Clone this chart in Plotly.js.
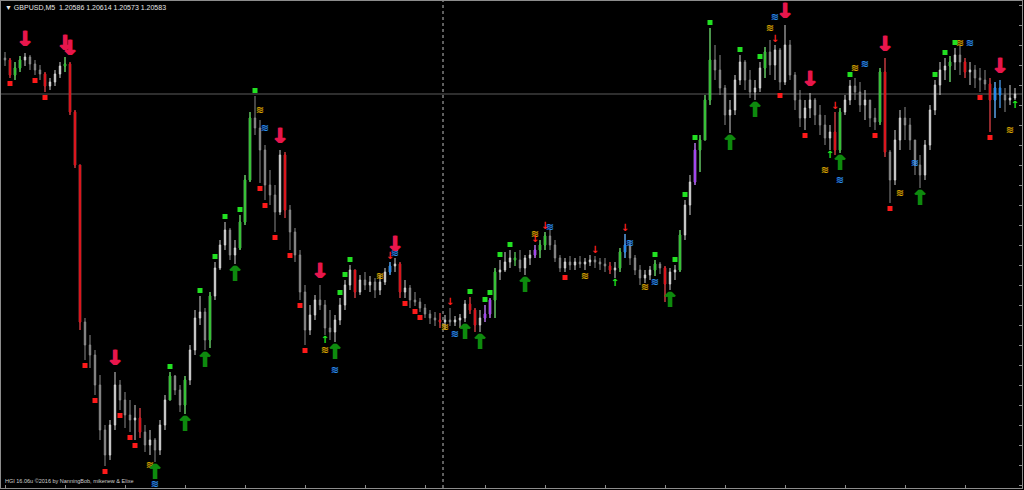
<!DOCTYPE html>
<html><head><meta charset="utf-8">
<script src="https://cdn.plot.ly/plotly-3.0.1.min.js"></script>
<style>html,body{margin:0;padding:0;background:#000;}#chart{width:1024px;height:490px;}</style>
</head><body><div id="chart"></div>
<script>
// ---- header / footer text ----
const symbolName = 'GBPUSD,M5';
const quote = ['1.20586', '1.20614', '1.20573', '1.20583'];
const footerText = 'HGI 16.06u ©2016 by NanningBob, mikenew & Elixe';

// ---- price data in points (price * 1e5) ----
const firstOpen = 120655;
const high = [
120667,120655,120647,120659,120665,120661,120651,120641,120627,120615,
120631,120647,120657,120647,120551,120441,120135,120101,120071,120021,
119921,119931,120027,120011,119987,119971,119961,119955,119921,119911,
119895,119931,119981,120027,120021,120001,120019,120081,120151,120179,
120155,120187,120247,120291,120327,120315,120291,120341,120421,120547,
120579,120531,120481,120431,120401,120471,120467,120361,120315,120271,
120201,120161,120181,120201,120171,120151,120141,120175,120211,120241,
120231,120221,120227,120219,120215,120221,120235,120247,120255,120247,
120211,120201,120187,120175,120163,120151,120147,120145,120141,120155,
120139,120143,120171,120177,120155,120151,120161,120175,120235,120251,
120267,120271,120267,120271,120261,120271,120281,120291,120307,120311,
120291,120261,120255,120259,120255,120259,120255,120261,120259,120255,
120255,120247,120247,120275,120303,120291,120261,120241,120231,120239,
120251,120247,120239,120235,120241,120311,120371,120421,120485,120501,
120581,120715,120681,120661,120601,120571,120621,120661,120651,120631,
120611,120647,120677,120691,120681,120675,120721,120691,120627,120591,
120571,120585,120575,120561,120541,120521,120547,120555,120581,120611,
120615,120607,120591,120571,120555,120635,120655,120471,120511,120551,
120557,120535,120491,120461,120491,120561,120611,120647,120655,120659,
120675,120679,120655,120647,120641,120635,120631,120615,120607,120611,
120595,120601,120595];
const low = [
120639,120615,120611,120627,120639,120631,120621,120611,120587,120591,
120599,120615,120627,120541,120435,120111,120051,120035,119981,119891,
119839,119851,119911,119951,119915,119907,119891,119895,119867,119861,
119847,119861,119911,119971,119981,119947,119943,120001,120061,120121,
120071,120075,120171,120231,120271,120251,120243,120271,120321,120407,
120501,120405,120371,120361,120307,120341,120335,120271,120247,120171,
120081,120101,120131,120151,120101,120091,120087,120121,120151,120191,
120175,120181,120191,120187,120175,120181,120201,120221,120227,120175,
120175,120155,120159,120147,120135,120123,120119,120115,120111,120119,
120119,120115,120127,120143,120107,120107,120127,120135,120135,120211,
120227,120235,120239,120227,120221,120241,120255,120255,120271,120271,
120247,120227,120227,120231,120231,120235,120231,120239,120235,120231,
120227,120223,120215,120227,120255,120241,120221,120201,120205,120211,
120219,120223,120167,120191,120211,120227,120291,120341,120401,120427,
120491,120561,120611,120581,120521,120505,120541,120601,120591,120575,
120571,120587,120615,120621,120611,120591,120601,120611,120551,120517,
120511,120535,120521,120501,120481,120471,120461,120465,120541,120561,
120571,120547,120531,120517,120511,120521,120457,120365,120401,120471,
120491,120471,120421,120395,120411,120471,120541,120581,120611,120607,
120631,120621,120615,120601,120595,120587,120591,120507,120535,120555,
120547,120561,120571];
const close = [
120651,120621,120635,120651,120657,120643,120631,120623,120599,120607,
120623,120639,120643,120547,120441,120127,120081,120061,120001,119911,
119861,119921,120001,119971,119941,119931,119935,119907,119881,119891,
119871,119921,119971,120019,119991,119961,120011,120071,120135,120147,
120091,120179,120235,120281,120311,120261,120275,120327,120411,120535,
120515,120471,120401,120381,120347,120461,120351,120307,120261,120187,
120111,120141,120171,120161,120115,120107,120131,120161,120201,120231,
120187,120211,120201,120207,120191,120207,120227,120239,120243,120187,
120195,120171,120167,120155,120143,120135,120131,120127,120131,120127,
120131,120135,120163,120151,120121,120135,120143,120171,120227,120231,
120247,120255,120251,120235,120255,120261,120271,120281,120299,120281,
120255,120235,120247,120241,120247,120243,120247,120251,120247,120243,
120239,120231,120235,120267,120281,120255,120231,120215,120221,120231,
120243,120235,120203,120227,120231,120301,120361,120407,120471,120491,
120571,120651,120631,120595,120541,120551,120611,120647,120611,120587,
120595,120635,120667,120641,120671,120607,120681,120621,120571,120535,
120555,120571,120541,120521,120495,120507,120471,120547,120571,120599,
120587,120561,120571,120535,120527,120627,120467,120411,120491,120535,
120521,120491,120441,120421,120481,120551,120601,120631,120639,120647,
120661,120647,120627,120631,120615,120611,120603,120571,120595,120581,
120571,120575,120583];

// ---- HGI bar painting (bar indices) ----
const paintGreen  = [2,3,12,33,36,41,47,48,49,98,102,107,108,123,130,135,139,140,141,152,167,175,189];
const paintRed    = [1,8,13,14,15,27,56,70,79,87,93,94,121,132,166,176,192,197];
const paintPurple = [96,97,106,138];
const paintBlue   = [77,124,198,199];

// ---- HGI signals (bar indices) ----
const bigDownArrows = [4,12,13,22,55,63,78,156,161,176,199];
const bigUpArrows   = [30,36,40,46,66,92,95,104,133,145,150,167,183];
const buyBoxes  = [33,39,42,44,47,50,67,68,69,93,96,97,99,101,130,134,136,138,141,147,151,169,186,188,190];
const sellBoxes = [1,6,8,16,18,20,23,25,26,51,52,54,57,59,60,80,82,83,112,155,160,174,177,195,197];
const smallDown = [77,89,106,108,118,124,154,166];
const smallUp   = [64,122,165,202];
// wave signals: bar index and level (points)
const yellowWaveIdx = [29,51,64,75,88,106,116,128,153,164,170,179,191,201];
const yellowWaveLvl = [119841,120551,120071,120219,120117,120303,120219,120197,120715,120431,120635,120385,120685,120511];
const blueWaveIdx = [30,52,66,78,90,109,125,130,154,167,172,182,193];
const blueWaveLvl = [119803,120515,120031,120265,120103,120317,120285,120207,120737,120411,120643,120445,120685];

const separatorBar = 87.6;

// ---- build ----
const P = v => v / 1e5;
const n = close.length;
const open = close.map((c, i) => i === 0 ? firstOpen : close[i - 1]);
const idx = close.map((c, i) => i);

function candles(list, incCol, decCol) {
  return {
    type: 'candlestick',
    x: list, open: list.map(i => P(open[i])), high: list.map(i => P(high[i])),
    low: list.map(i => P(low[i])), close: list.map(i => P(close[i])),
    increasing: {line: {color: incCol, width: 1}, fillcolor: incCol},
    decreasing: {line: {color: decCol, width: 1}, fillcolor: decCol},
    whiskerwidth: 0, hoverinfo: 'skip', showlegend: false
  };
}

const BIG = 24, SMALL = 11;
function textMarks(list, ys, txt, color, size, thick) {
  const f = {family: 'DejaVu Sans', size: size, color: color, weight: 'bold'};
  if (thick) f.shadow = '1px 0px 0px ' + color + ', -1px 0px 0px ' + color;
  return {
    type: 'scatter', mode: 'text', x: list, y: ys,
    text: list.map(() => txt), textposition: 'middle center',
    textfont: f, hoverinfo: 'skip', showlegend: false, cliponaxis: false
  };
}
function boxMarks(list, ys, color) {
  return {
    type: 'scatter', mode: 'markers', x: list, y: ys,
    marker: {symbol: 'square', size: 5, color: color, line: {width: 0}},
    hoverinfo: 'skip', showlegend: false
  };
}

const traces = [
  candles(idx, '#d2d2d2', '#8a8a8a'),
  candles(paintGreen, '#2fc12f', '#2fc12f'),
  candles(paintRed, '#e01018', '#e01018'),
  candles(paintPurple, '#a040f0', '#a040f0'),
  candles(paintBlue, '#1e88f0', '#1e88f0'),
  textMarks(yellowWaveIdx, yellowWaveLvl.map(P), '≋', '#d9a400', 10, false),
  textMarks(blueWaveIdx, blueWaveLvl.map(P), '≋', '#2a8cf0', 10, false),
  boxMarks(buyBoxes, buyBoxes.map(i => P(high[i] + SMALL)), '#22e022'),
  boxMarks(sellBoxes, sellBoxes.map(i => P(low[i] - SMALL)), '#ff1a1a'),
  textMarks(smallDown, smallDown.map(i => P(high[i] + SMALL)), '↓', '#ff2020', 10, false),
  textMarks(smallUp, smallUp.map(i => P(low[i] - SMALL)), '↑', '#22ee22', 10, false),
  textMarks(bigDownArrows, bigDownArrows.map(i => P(high[i] + BIG)), '↓', '#e8164c', 21, true),
  textMarks(bigUpArrows, bigUpArrows.map(i => P(low[i] - BIG)), '↑', '#0e8a0e', 21, true)
];

const layout = {
  width: 1024, height: 490,
  paper_bgcolor: '#000', plot_bgcolor: '#000',
  margin: {l: 1, r: 2, t: 1, b: 2},
  showlegend: false,
  boxgap: 0.6,
  xaxis: {range: [-0.8, 203.4], showgrid: false, zeroline: false, showticklabels: false,
          showline: true, mirror: true, linecolor: '#8c8c8c', linewidth: 1,
          ticks: 'inside', ticklen: 3, tickcolor: '#8c8c8c', dtick: 12,
          rangeslider: {visible: false}, fixedrange: true},
  yaxis: {range: [1.19795, 1.20769], side: 'right', showgrid: false, zeroline: false,
          showticklabels: false, showline: true, mirror: true, linecolor: '#8c8c8c', linewidth: 1,
          ticks: 'inside', ticklen: 3, tickcolor: '#8c8c8c', dtick: 0.0004, fixedrange: true},
  shapes: [
    {type: 'line', xref: 'paper', x0: 0, x1: 1, yref: 'y', y0: P(close[n - 1]), y1: P(close[n - 1]),
     line: {color: '#5c5c5c', width: 1}, layer: 'below'},
    {type: 'line', xref: 'x', x0: separatorBar, x1: separatorBar, yref: 'paper', y0: 0, y1: 1,
     line: {color: '#bdbdbd', width: 1, dash: 'dot'}, layer: 'below'}
  ],
  annotations: [
    {xref: 'paper', yref: 'paper', x: 0.002, y: 0.997, xanchor: 'left', yanchor: 'top', showarrow: false,
     text: '▼ ' + symbolName + '\u00a0\u00a0' + quote.join(' '),
     font: {family: 'Liberation Sans', size: 7, color: '#e6e6e6'}},
    {xref: 'paper', yref: 'paper', x: 0.002, y: 0.015, xanchor: 'left', yanchor: 'middle', showarrow: false,
     text: footerText, font: {family: 'Liberation Sans', size: 5.5, color: '#cfcfcf'}}
  ]
};

Plotly.newPlot('chart', traces, layout, {staticPlot: true, displayModeBar: false});
</script>
</body></html>
